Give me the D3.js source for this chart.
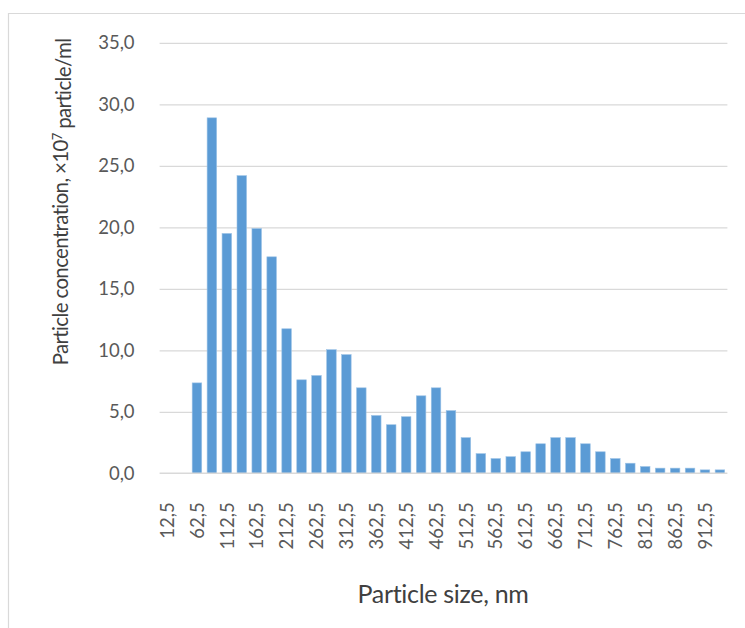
<!DOCTYPE html>
<html>
<head>
<meta charset="utf-8">
<script src="https://cdn.jsdelivr.net/npm/d3@7"></script>
<style>
  html, body { margin: 0; padding: 0; background: #fff; }
  svg { display: block; font-family: Lato, "Noto Sans", sans-serif; }
</style>
</head>
<body>
<svg id="chart" width="745" height="628"></svg>
<script>
// Particle size bins (nm), one bar per 25 nm bin
const SIZES = [
  12.5, 37.5, 62.5, 87.5, 112.5, 137.5, 162.5, 187.5, 212.5, 237.5,
  262.5, 287.5, 312.5, 337.5, 362.5, 387.5, 412.5, 437.5, 462.5, 487.5,
  512.5, 537.5, 562.5, 587.5, 612.5, 637.5, 662.5, 687.5, 712.5, 737.5,
  762.5, 787.5, 812.5, 837.5, 862.5, 887.5, 912.5, 937.5,
];

// Concentration, x10^7 particle/ml
const CONCENTRATION = [
  0, 0, 7.35, 28.9, 19.5, 24.2, 19.9, 17.6, 11.75, 7.6,
  7.95, 10.05, 9.65, 6.95, 4.7, 3.95, 4.6, 6.3, 6.95, 5.1,
  2.9, 1.6, 1.2, 1.35, 1.75, 2.4, 2.9, 2.9, 2.4, 1.75,
  1.2, 0.82, 0.55, 0.42, 0.42, 0.42, 0.28, 0.28,
];

const Y_TICKS = [0, 5, 10, 15, 20, 25, 30, 35];

const fmtComma = (v) => d3.format(".1f")(v).replace(".", ",");

const svg = d3.select("#chart");
const margin = { top: 42.8, left: 159.6, right: 745 - 727.4, bottom: 628 - 473.3 };
const W = 745 - margin.left - margin.right;
const H = 628 - margin.top - margin.bottom;

// light frame of the chart area (only top and left edges are visible)
svg.append("line").attr("x1", 8).attr("x2", 745).attr("y1", 13.5).attr("y2", 13.5)
  .attr("stroke", "#d9d9d9").attr("stroke-width", 1.2);
svg.append("line").attr("x1", 8.5).attr("x2", 8.5).attr("y1", 13).attr("y2", 628)
  .attr("stroke", "#d9d9d9").attr("stroke-width", 1.2);

const g = svg.append("g").attr("transform", `translate(${margin.left},${margin.top})`);

const x = d3.scaleBand().domain(SIZES).range([0, W]).paddingInner(0.36).paddingOuter(0.18);
const y = d3.scaleLinear().domain([0, 35]).range([H, 0]);

// horizontal grid
g.append("g")
  .call(d3.axisLeft(y).tickValues(Y_TICKS.slice(1)).tickSize(-W).tickFormat(""))
  .call((gg) => gg.select(".domain").remove())
  .selectAll("line").attr("stroke", "#d9d9d9").attr("stroke-width", 1.3);

// y tick labels
g.append("g")
  .call(d3.axisLeft(y).tickValues(Y_TICKS).tickSize(0).tickPadding(25).tickFormat(fmtComma))
  .call((gg) => gg.select(".domain").remove())
  .selectAll("text")
  .style("font-family", "Lato, sans-serif").style("font-size", "18.5px").attr("fill", "#595959");

// bars
g.selectAll("rect.bar").data(SIZES).join("rect")
  .attr("class", "bar")
  .attr("x", (d) => x(d))
  .attr("y", (d, i) => y(CONCENTRATION[i]))
  .attr("width", x.bandwidth())
  .attr("height", (d, i) => H - y(CONCENTRATION[i]))
  .attr("fill", "#5b9bd5")
  .attr("stroke", "#9dc3e6").attr("stroke-width", 0.6);

// baseline
g.append("line").attr("x1", 0).attr("x2", W).attr("y1", H).attr("y2", H)
  .attr("stroke", "#d9d9d9").attr("stroke-width", 1.6);

// x tick labels, every other bin, rotated
const xTicks = SIZES.filter((d, i) => i % 2 === 0);
g.append("g").selectAll("text").data(xTicks).join("text")
  .attr("transform", (d) => `translate(${x(d) + x.bandwidth() / 2},${H + 29}) rotate(-90)`)
  .attr("dy", "0.36em")
  .attr("text-anchor", "end")
  .style("font-size", "18.5px").attr("fill", "#595959")
  .text((d) => fmtComma(d));

// axis titles
svg.append("text")
  .attr("x", 443).attr("y", 603)
  .attr("text-anchor", "middle")
  .style("font-size", "25px").style("letter-spacing", "-0.3px").attr("fill", "#404040")
  .text("Particle size, nm");

const yt = svg.append("text")
  .attr("transform", "translate(68,202) rotate(-90)")
  .attr("text-anchor", "middle")
  .style("font-size", "20.5px").style("letter-spacing", "-0.65px").attr("fill", "#404040");
yt.append("tspan").text("Particle concentration, ×10");
yt.append("tspan").attr("dy", "-0.45em").style("font-size", "13px").text("7");
yt.append("tspan").attr("dy", "0.45em").text(" particle/ml");
</script>
</body>
</html>
